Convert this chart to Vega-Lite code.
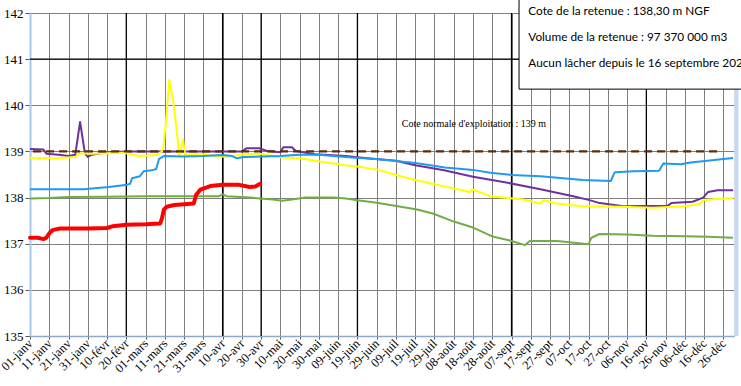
{
  "$schema": "https://vega.github.io/schema/vega-lite/v6.json",
  "autosize": {"type": "none"},
  "width": 704,
  "height": 323,
  "padding": {"left": 30, "top": 13, "right": 7, "bottom": 50},
  "background": "white",
  "config": {
    "view": {"stroke": "#dbe5f1", "strokeWidth": 1},
    "axisX": {"labelOverlap": false, "labelBound": false, "labelFlush": false}
  },
  "datasets": {
    "series": [
      {"serie": "s_rouge", "day": 0, "value": 137.13}, {"serie": "s_rouge", "day": 4, "value": 137.13}, {"serie": "s_rouge", "day": 7, "value": 137.1}, {"serie": "s_rouge", "day": 8.5, "value": 137.13}, {"serie": "s_rouge", "day": 10.5, "value": 137.25}, {"serie": "s_rouge", "day": 12, "value": 137.3}, {"serie": "s_rouge", "day": 15.7, "value": 137.33}, {"serie": "s_rouge", "day": 30, "value": 137.33}, {"serie": "s_rouge", "day": 40, "value": 137.34}, {"serie": "s_rouge", "day": 43, "value": 137.38}, {"serie": "s_rouge", "day": 50, "value": 137.41}, {"serie": "s_rouge", "day": 60, "value": 137.42}, {"serie": "s_rouge", "day": 67.6, "value": 137.44}, {"serie": "s_rouge", "day": 68.5, "value": 137.55}, {"serie": "s_rouge", "day": 69.5, "value": 137.74}, {"serie": "s_rouge", "day": 71, "value": 137.8}, {"serie": "s_rouge", "day": 75, "value": 137.84}, {"serie": "s_rouge", "day": 85, "value": 137.87}, {"serie": "s_rouge", "day": 86.3, "value": 138.06}, {"serie": "s_rouge", "day": 88.4, "value": 138.17}, {"serie": "s_rouge", "day": 93.6, "value": 138.25}, {"serie": "s_rouge", "day": 100, "value": 138.28}, {"serie": "s_rouge", "day": 108, "value": 138.28}, {"serie": "s_rouge", "day": 114, "value": 138.23}, {"serie": "s_rouge", "day": 117, "value": 138.24}, {"serie": "s_rouge", "day": 119.5, "value": 138.3},
      {"serie": "s_verte", "day": 0, "value": 137.98}, {"serie": "s_verte", "day": 10, "value": 137.99}, {"serie": "s_verte", "day": 20, "value": 138.01}, {"serie": "s_verte", "day": 40, "value": 138.02}, {"serie": "s_verte", "day": 60, "value": 138.03}, {"serie": "s_verte", "day": 98, "value": 138.03}, {"serie": "s_verte", "day": 100, "value": 138.07}, {"serie": "s_verte", "day": 102, "value": 138.03}, {"serie": "s_verte", "day": 114, "value": 138.0}, {"serie": "s_verte", "day": 126, "value": 137.96}, {"serie": "s_verte", "day": 131, "value": 137.93}, {"serie": "s_verte", "day": 136, "value": 137.96}, {"serie": "s_verte", "day": 143, "value": 138.0}, {"serie": "s_verte", "day": 157.6, "value": 138.0}, {"serie": "s_verte", "day": 164, "value": 137.98}, {"serie": "s_verte", "day": 170, "value": 137.94}, {"serie": "s_verte", "day": 180, "value": 137.89}, {"serie": "s_verte", "day": 187, "value": 137.84}, {"serie": "s_verte", "day": 201, "value": 137.74}, {"serie": "s_verte", "day": 209.5, "value": 137.65}, {"serie": "s_verte", "day": 220, "value": 137.48}, {"serie": "s_verte", "day": 230, "value": 137.35}, {"serie": "s_verte", "day": 240.6, "value": 137.15}, {"serie": "s_verte", "day": 250, "value": 137.06}, {"serie": "s_verte", "day": 257, "value": 136.97}, {"serie": "s_verte", "day": 259.5, "value": 137.06}, {"serie": "s_verte", "day": 273.5, "value": 137.06}, {"serie": "s_verte", "day": 280, "value": 137.03}, {"serie": "s_verte", "day": 290, "value": 136.99}, {"serie": "s_verte", "day": 291.5, "value": 137.13}, {"serie": "s_verte", "day": 295.7, "value": 137.21}, {"serie": "s_verte", "day": 310, "value": 137.2}, {"serie": "s_verte", "day": 323, "value": 137.17}, {"serie": "s_verte", "day": 340, "value": 137.16}, {"serie": "s_verte", "day": 352, "value": 137.15}, {"serie": "s_verte", "day": 365, "value": 137.13},
      {"serie": "s_violette", "day": 0, "value": 139.05}, {"serie": "s_violette", "day": 7, "value": 139.04}, {"serie": "s_violette", "day": 8.5, "value": 138.95}, {"serie": "s_violette", "day": 15, "value": 138.93}, {"serie": "s_violette", "day": 20, "value": 138.9}, {"serie": "s_violette", "day": 23.5, "value": 138.93}, {"serie": "s_violette", "day": 26, "value": 139.64}, {"serie": "s_violette", "day": 28.5, "value": 138.96}, {"serie": "s_violette", "day": 30, "value": 138.88}, {"serie": "s_violette", "day": 32, "value": 138.93}, {"serie": "s_violette", "day": 40, "value": 138.98}, {"serie": "s_violette", "day": 50, "value": 139.0}, {"serie": "s_violette", "day": 110, "value": 139.0}, {"serie": "s_violette", "day": 112.5, "value": 139.07}, {"serie": "s_violette", "day": 119, "value": 139.07}, {"serie": "s_violette", "day": 123, "value": 139.01}, {"serie": "s_violette", "day": 130, "value": 138.98}, {"serie": "s_violette", "day": 131.5, "value": 139.09}, {"serie": "s_violette", "day": 136, "value": 139.09}, {"serie": "s_violette", "day": 138, "value": 139.01}, {"serie": "s_violette", "day": 148, "value": 138.94}, {"serie": "s_violette", "day": 164, "value": 138.9}, {"serie": "s_violette", "day": 171, "value": 138.87}, {"serie": "s_violette", "day": 181, "value": 138.83}, {"serie": "s_violette", "day": 190, "value": 138.8}, {"serie": "s_violette", "day": 200, "value": 138.7}, {"serie": "s_violette", "day": 215, "value": 138.59}, {"serie": "s_violette", "day": 230, "value": 138.45}, {"serie": "s_violette", "day": 248, "value": 138.32}, {"serie": "s_violette", "day": 265, "value": 138.18}, {"serie": "s_violette", "day": 282, "value": 138.03}, {"serie": "s_violette", "day": 290, "value": 137.95}, {"serie": "s_violette", "day": 295, "value": 137.89}, {"serie": "s_violette", "day": 308, "value": 137.81}, {"serie": "s_violette", "day": 319, "value": 137.82}, {"serie": "s_violette", "day": 331, "value": 137.82}, {"serie": "s_violette", "day": 333, "value": 137.88}, {"serie": "s_violette", "day": 344, "value": 137.91}, {"serie": "s_violette", "day": 349.5, "value": 138.0}, {"serie": "s_violette", "day": 352, "value": 138.12}, {"serie": "s_violette", "day": 357, "value": 138.16}, {"serie": "s_violette", "day": 365, "value": 138.16},
      {"serie": "s_jaune", "day": 0, "value": 138.85}, {"serie": "s_jaune", "day": 15, "value": 138.86}, {"serie": "s_jaune", "day": 24, "value": 138.88}, {"serie": "s_jaune", "day": 25.5, "value": 138.96}, {"serie": "s_jaune", "day": 32, "value": 138.95}, {"serie": "s_jaune", "day": 40, "value": 138.96}, {"serie": "s_jaune", "day": 49, "value": 138.97}, {"serie": "s_jaune", "day": 56, "value": 138.9}, {"serie": "s_jaune", "day": 66, "value": 138.92}, {"serie": "s_jaune", "day": 69, "value": 139.02}, {"serie": "s_jaune", "day": 70.5, "value": 139.6}, {"serie": "s_jaune", "day": 72.3, "value": 140.55}, {"serie": "s_jaune", "day": 74.5, "value": 140.05}, {"serie": "s_jaune", "day": 76.3, "value": 139.4}, {"serie": "s_jaune", "day": 77.5, "value": 138.88}, {"serie": "s_jaune", "day": 79.4, "value": 139.26}, {"serie": "s_jaune", "day": 80.6, "value": 138.92}, {"serie": "s_jaune", "day": 88, "value": 138.94}, {"serie": "s_jaune", "day": 102, "value": 138.88}, {"serie": "s_jaune", "day": 111, "value": 138.94}, {"serie": "s_jaune", "day": 119, "value": 138.95}, {"serie": "s_jaune", "day": 131, "value": 138.87}, {"serie": "s_jaune", "day": 140, "value": 138.85}, {"serie": "s_jaune", "day": 148, "value": 138.8}, {"serie": "s_jaune", "day": 163.6, "value": 138.7}, {"serie": "s_jaune", "day": 171, "value": 138.67}, {"serie": "s_jaune", "day": 181, "value": 138.6}, {"serie": "s_jaune", "day": 190, "value": 138.49}, {"serie": "s_jaune", "day": 200, "value": 138.38}, {"serie": "s_jaune", "day": 215.5, "value": 138.24}, {"serie": "s_jaune", "day": 228.5, "value": 138.12}, {"serie": "s_jaune", "day": 229.4, "value": 138.18}, {"serie": "s_jaune", "day": 239, "value": 138.03}, {"serie": "s_jaune", "day": 256, "value": 137.96}, {"serie": "s_jaune", "day": 265, "value": 137.87}, {"serie": "s_jaune", "day": 266.6, "value": 137.94}, {"serie": "s_jaune", "day": 273.5, "value": 137.87}, {"serie": "s_jaune", "day": 287, "value": 137.81}, {"serie": "s_jaune", "day": 308, "value": 137.8}, {"serie": "s_jaune", "day": 323, "value": 137.78}, {"serie": "s_jaune", "day": 340, "value": 137.81}, {"serie": "s_jaune", "day": 348, "value": 137.86}, {"serie": "s_jaune", "day": 349, "value": 137.94}, {"serie": "s_jaune", "day": 356, "value": 137.97}, {"serie": "s_jaune", "day": 365, "value": 137.99},
      {"serie": "s_bleue", "day": 0, "value": 138.18}, {"serie": "s_bleue", "day": 28, "value": 138.18}, {"serie": "s_bleue", "day": 35, "value": 138.21}, {"serie": "s_bleue", "day": 41, "value": 138.23}, {"serie": "s_bleue", "day": 50.5, "value": 138.28}, {"serie": "s_bleue", "day": 52, "value": 138.3}, {"serie": "s_bleue", "day": 53, "value": 138.42}, {"serie": "s_bleue", "day": 57, "value": 138.46}, {"serie": "s_bleue", "day": 59, "value": 138.57}, {"serie": "s_bleue", "day": 64, "value": 138.6}, {"serie": "s_bleue", "day": 65.5, "value": 138.62}, {"serie": "s_bleue", "day": 67, "value": 138.84}, {"serie": "s_bleue", "day": 69.5, "value": 138.9}, {"serie": "s_bleue", "day": 80, "value": 138.89}, {"serie": "s_bleue", "day": 90, "value": 138.9}, {"serie": "s_bleue", "day": 100, "value": 138.92}, {"serie": "s_bleue", "day": 105, "value": 138.9}, {"serie": "s_bleue", "day": 107.4, "value": 138.85}, {"serie": "s_bleue", "day": 111, "value": 138.88}, {"serie": "s_bleue", "day": 130, "value": 138.9}, {"serie": "s_bleue", "day": 140, "value": 138.93}, {"serie": "s_bleue", "day": 150, "value": 138.93}, {"serie": "s_bleue", "day": 163.6, "value": 138.88}, {"serie": "s_bleue", "day": 181, "value": 138.83}, {"serie": "s_bleue", "day": 200, "value": 138.75}, {"serie": "s_bleue", "day": 215.5, "value": 138.65}, {"serie": "s_bleue", "day": 230, "value": 138.6}, {"serie": "s_bleue", "day": 239, "value": 138.54}, {"serie": "s_bleue", "day": 250, "value": 138.49}, {"serie": "s_bleue", "day": 265, "value": 138.46}, {"serie": "s_bleue", "day": 287, "value": 138.38}, {"serie": "s_bleue", "day": 301.5, "value": 138.36}, {"serie": "s_bleue", "day": 303.6, "value": 138.55}, {"serie": "s_bleue", "day": 313.6, "value": 138.57}, {"serie": "s_bleue", "day": 326.6, "value": 138.58}, {"serie": "s_bleue", "day": 328.8, "value": 138.74}, {"serie": "s_bleue", "day": 338, "value": 138.72}, {"serie": "s_bleue", "day": 343, "value": 138.76}, {"serie": "s_bleue", "day": 365, "value": 138.86}
    ],
    "normale": [
      {"day": 1.6, "value": 139}, {"day": 359.3, "value": 139}
    ],
    "reperes": [
      {"day": 50}, {"day": 100}, {"day": 120}, {"day": 170}, {"day": 250}, {"day": 320}
    ],
    "graduations": [
      {"day": 5}, {"day": 15}, {"day": 25}, {"day": 35}, {"day": 45}, {"day": 55}, {"day": 65}, {"day": 75}, {"day": 85}, {"day": 95}, {"day": 105}, {"day": 115}, {"day": 125}, {"day": 135}, {"day": 145}, {"day": 155}, {"day": 165}, {"day": 175}, {"day": 185}, {"day": 195}, {"day": 205}, {"day": 215}, {"day": 225}, {"day": 235}, {"day": 245}, {"day": 255}, {"day": 265}, {"day": 275}, {"day": 285}, {"day": 295}, {"day": 305}, {"day": 315}, {"day": 325}, {"day": 335}, {"day": 345}, {"day": 355}, {"day": 365}
    ],
    "encadre": [
      {"day": 253.9, "day2": 400, "value": 140.35, "value2": 143}
    ],
    "textes": [
      {"day": 258.7, "value": 142.04, "texte": "Cote de la retenue : 138,30 m NGF"},
      {"day": 258.7, "value": 141.48, "texte": "Volume de la retenue : 97 370 000 m3"},
      {"day": 258.7, "value": 140.91, "texte": "Aucun lâcher depuis le 16 septembre 2023"}
    ]
  },
  "encoding": {
    "x": {
      "field": "day", "type": "quantitative",
      "scale": {"domain": [0, 365.5], "nice": false, "zero": false},
      "axis": {
        "values": [0,10,20,30,40,50,60,70,80,90,100,110,120,130,140,150,160,170,180,190,200,210,220,230,240,250,260,270,280,290,300,310,320,330,340,350,360],
        "labelExpr": "['01-janv','11-janv','21-janv','31-janv','10-févr','20-févr','01-mars','11-mars','21-mars','31-mars','10-avr','20-avr','30-avr','10-mai','20-mai','30-mai','09-juin','19-juin','29-juin','09-juil','19-juil','29-juil','08-août','18-août','28-août','07-sept','17-sept','27-sept','07-oct','17-oct','27-oct','06-nov','16-nov','26-nov','06-déc','16-déc','26-déc'][round(datum.value / 10)]",
        "labelAngle": -45,
        "labelAlign": "right",
        "labelBaseline": "middle",
        "labelFont": "Liberation Serif",
        "labelFontSize": 12.5,
        "labelColor": "black",
        "labelPadding": 2,
        "labelDx": 5,
        "labelDy": -3,
        "labelOverlap": false,
        "grid": true,
        "gridColor": "#7f7f7f",
        "gridWidth": 1,
        "tickColor": "#595959",
        "tickSize": 3,
        "domainColor": "#8ea9c9",
        "domainWidth": 1.5,
        "title": null
      }
    },
    "y": {
      "field": "value", "type": "quantitative",
      "scale": {"domain": [135, 142], "nice": false, "zero": false},
      "axis": {
        "values": [135, 136, 137, 138, 139, 140, 141, 142],
        "labelFont": "Liberation Serif",
        "labelFontSize": 13,
        "labelColor": "black",
        "labelPadding": 2,
        "grid": true,
        "gridColor": "#7f7f7f",
        "gridWidth": 1,
        "tickColor": "#595959",
        "tickSize": 5,
        "domainColor": "#a9c8ea",
        "domainWidth": 2,
        "title": null
      }
    }
  },
  "layer": [
    {
      "data": {"name": "reperes"},
      "mark": {"type": "rule", "color": "black", "strokeWidth": 1.3},
      "encoding": {"y": null}
    },
    {
      "data": {"values": [{"value": 141}]},
      "mark": {"type": "rule", "color": "black", "strokeWidth": 1.2},
      "encoding": {"x": null}
    },
    {
      "data": {"name": "graduations"},
      "mark": {"type": "tick", "orient": "vertical", "color": "#595959", "size": 3, "thickness": 1, "yOffset": 1.5},
      "encoding": {"y": {"datum": 135}}
    },
    {
      "data": {"name": "series"},
      "transform": [{"filter": "datum.serie !== 's_rouge'"}],
      "mark": {"type": "line", "strokeWidth": 2, "strokeJoin": "round"},
      "encoding": {
        "color": {
          "field": "serie", "type": "nominal",
          "scale": {"domain": ["s_verte", "s_bleue", "s_jaune", "s_violette"], "range": ["#70ad47", "#1e9bf0", "#ffff00", "#7030a0"]},
          "legend": null
        },
        "order": {"field": "day", "type": "quantitative"}
      }
    },
    {
      "data": {"name": "normale"},
      "mark": {"type": "line", "color": "#5a2d0c", "strokeWidth": 2.2, "strokeDash": [8, 5]},
      "encoding": {}
    },
    {
      "data": {"name": "series"},
      "transform": [{"filter": "datum.serie === 's_rouge'"}],
      "mark": {"type": "line", "color": "#ff0000", "strokeWidth": 4, "strokeJoin": "round", "strokeCap": "round"},
      "encoding": {
        "order": {"field": "day", "type": "quantitative"}
      }
    },
    {
      "data": {"values": [{"day": 230.5, "value": 139.59, "texte": "Cote normale d'exploitation : 139 m"}]},
      "mark": {"type": "text", "font": "Liberation Serif", "fontSize": 10, "color": "black", "align": "center", "baseline": "middle"},
      "encoding": {
        "text": {"field": "texte"}
      }
    },
    {
      "data": {"values": [{"day": 366.8, "value": 140.35, "value2": 135}]},
      "mark": {"type": "rule", "color": "#c6d9f0", "strokeWidth": 4},
      "encoding": {
        "y2": {"field": "value2"}
      }
    },
    {
      "data": {"name": "encadre"},
      "mark": {"type": "rect", "fill": "white", "stroke": "black", "strokeWidth": 1},
      "encoding": {
        "x2": {"field": "day2"},
        "y2": {"field": "value2"}
      }
    },
    {
      "data": {"name": "textes"},
      "mark": {"type": "text", "font": "Lato", "fontSize": 11.8, "color": "black", "align": "left", "baseline": "middle"},
      "encoding": {
        "text": {"field": "texte"}
      }
    }
  ]
}
